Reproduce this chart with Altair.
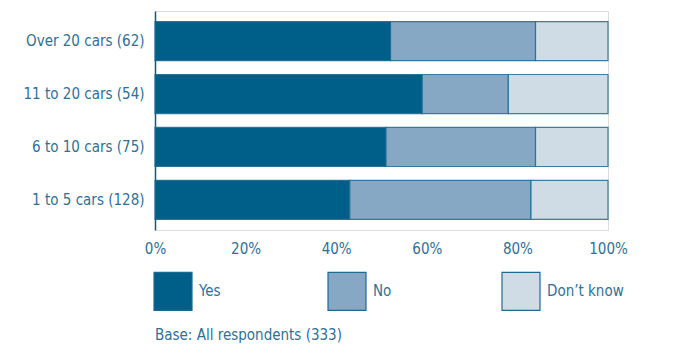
import altair as alt
import pandas as pd

categories = ["Over 20 cars (62)", "11 to 20 cars (54)", "6 to 10 cars (75)", "1 to 5 cars (128)"]
legend_labels = ["Yes", "No", "Don\u2019t know"]
yes_vals = [52, 59, 51, 43]
no_vals = [32, 19, 33, 40]
dk_vals = [16, 22, 16, 17]
x_ticks = [0, 20, 40, 60, 80, 100]
caption = "Base: All respondents (333)"

rows = []
for i, c in enumerate(categories):
    for j, (r, v) in enumerate(zip(legend_labels, [yes_vals[i], no_vals[i], dk_vals[i]])):
        rows.append({"group": c, "response": r, "value": v, "order": j})
df = pd.DataFrame(rows)

TEXT = "#2e7196"
FONT = "DejaVu Sans Condensed"
FS = 15

chart = alt.Chart(df).mark_bar(stroke="#1d6a92", strokeWidth=1.2, strokeOpacity=0.85).encode(
    y=alt.Y("group:N", sort=categories, title=None,
            scale=alt.Scale(paddingInner=0.26, paddingOuter=0.2),
            axis=alt.Axis(ticks=False, domainColor="#005F89", domainWidth=1.5,
                          labelFontSize=FS, labelColor=TEXT, labelFont=FONT,
                          labelPadding=11)),
    x=alt.X("value:Q", stack="zero", title=None,
            scale=alt.Scale(domain=[0, 100], nice=False),
            axis=alt.Axis(values=x_ticks, labelExpr="datum.value + '%'",
                          grid=False, domain=False, ticks=False, labelFlush=False,
                          labelFontSize=FS, labelColor=TEXT, labelFont=FONT,
                          labelPadding=11)),
    color=alt.Color("response:N", sort=legend_labels,
                    scale=alt.Scale(domain=legend_labels,
                                    range=["#005F89", "#86A8C4", "#CFDCE6"]),
                    legend=alt.Legend(title=None, orient="none", legendX=-2, legendY=41+219,
                                      direction="horizontal", columns=3, gridAlign="all",
                                      symbolType="square", symbolSize=1444,
                                      symbolStrokeColor="#1d6a92", symbolStrokeWidth=1.2,
                                      labelFontSize=FS, labelColor=TEXT, labelFont=FONT,
                                      labelOffset=6, columnPadding=49)),
    order=alt.Order("order:Q"),
).properties(
    width=453, height=219,
    title=alt.TitleParams(caption, orient="bottom", anchor="start", frame="group",
                          fontSize=FS, fontWeight="normal", color=TEXT, font=FONT, offset=15),
).configure_view(stroke=None).configure(
    autosize=alt.AutoSizeParams(type="none"),
    padding={"left": 155, "top": 11, "right": 67, "bottom": 116},
)

chart.save("out.html", embed_options={"renderer": "svg", "actions": False})
